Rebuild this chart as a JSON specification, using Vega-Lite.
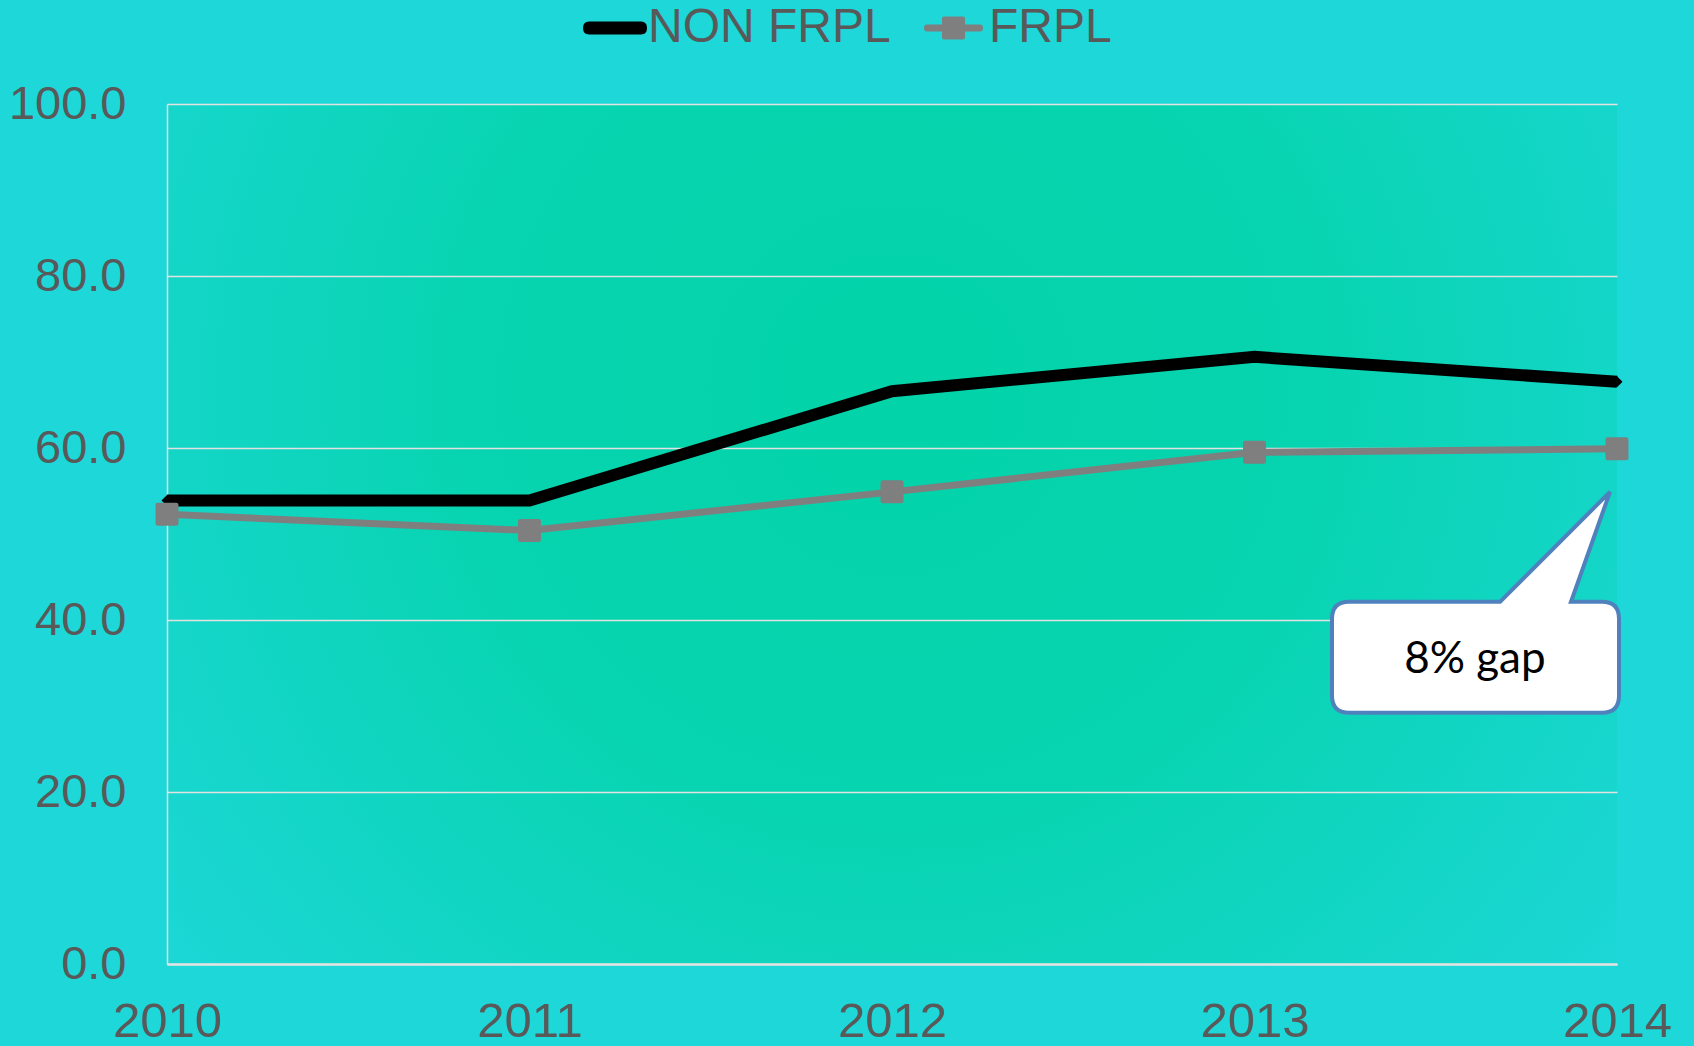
{
  "$schema": "https://vega.github.io/schema/vega-lite/v6.json",
  "width": 1450,
  "height": 860,
  "autosize": "none",
  "padding": {"left": 167, "top": 104, "right": 77, "bottom": 82},
  "background": "#1ED7D9",
  "config": {
    "font": "Liberation Sans",
    "view": {
      "stroke": null,
      "fill": {
        "gradient": "radial",
        "x1": 0.5, "y1": 0.4, "r1": 0,
        "x2": 0.5, "y2": 0.4, "r2": 0.65,
        "stops": [
          {"offset": 0, "color": "#02D3A8"},
          {"offset": 0.45, "color": "#07D4B0"},
          {"offset": 1, "color": "#1DD7D8"}
        ]
      }
    }
  },
  "data": {
    "values": [
      {"year": 2010, "series": "NON FRPL", "value": 53.9},
      {"year": 2011, "series": "NON FRPL", "value": 53.9},
      {"year": 2012, "series": "NON FRPL", "value": 66.6},
      {"year": 2013, "series": "NON FRPL", "value": 70.6},
      {"year": 2014, "series": "NON FRPL", "value": 67.7},
      {"year": 2010, "series": "FRPL", "value": 52.3},
      {"year": 2011, "series": "FRPL", "value": 50.4},
      {"year": 2012, "series": "FRPL", "value": 54.9},
      {"year": 2013, "series": "FRPL", "value": 59.5},
      {"year": 2014, "series": "FRPL", "value": 59.9}
    ]
  },
  "layer": [
    {
      "transform": [{"filter": "datum.series == 'FRPL'"}],
      "mark": {"type": "line", "color": "#7F7F7F", "strokeWidth": 7, "strokeJoin": "miter"},
      "encoding": {
        "x": {
          "field": "year",
          "type": "quantitative",
          "scale": {"domain": [2010, 2014], "nice": false, "zero": false},
          "axis": {
            "title": null,
            "values": [2010, 2011, 2012, 2013, 2014],
            "format": "d",
            "grid": false,
            "ticks": false,
            "domain": true,
            "domainColor": "#E2E2E2",
            "domainWidth": 2.5,
            "labelFontSize": 49,
            "labelColor": "#595959",
            "labelPadding": 33,
            "labelOverlap": false,
            "labelFlush": false,
            "labelBound": false
          }
        },
        "y": {
          "field": "value",
          "type": "quantitative",
          "scale": {"domain": [0, 100], "nice": false},
          "axis": {
            "title": null,
            "values": [0, 20, 40, 60, 80, 100],
            "format": ".1f",
            "grid": true,
            "gridColor": "#E2E2E2",
            "gridWidth": 1.5,
            "ticks": false,
            "domain": true,
            "domainColor": "#E2E2E2",
            "domainWidth": 1.5,
            "labelFontSize": 47,
            "labelColor": "#595959",
            "labelPadding": 41,
            "labelOverlap": false
          }
        }
      }
    },
    {
      "transform": [{"filter": "datum.series == 'NON FRPL'"}],
      "mark": {"type": "line", "color": "#000000", "strokeWidth": 12, "strokeJoin": "miter"},
      "encoding": {
        "x": {"field": "year", "type": "quantitative"},
        "y": {"field": "value", "type": "quantitative"}
      }
    },
    {
      "transform": [{"filter": "datum.series == 'NON FRPL'"}],
      "mark": {"type": "point", "shape": "diamond", "filled": true, "color": "#000000", "size": 120, "opacity": 1},
      "encoding": {
        "x": {"field": "year", "type": "quantitative"},
        "y": {"field": "value", "type": "quantitative"}
      }
    },
    {
      "transform": [{"filter": "datum.series == 'FRPL'"}],
      "mark": {
        "type": "point",
        "shape": "M -0.8 -1 L 0.8 -1 Q 1 -1 1 -0.8 L 1 0.8 Q 1 1 0.8 1 L -0.8 1 Q -1 1 -1 0.8 L -1 -0.8 Q -1 -1 -0.8 -1 Z",
        "filled": true,
        "color": "#7F7F7F",
        "size": 529,
        "opacity": 1
      },
      "encoding": {
        "x": {"field": "year", "type": "quantitative"},
        "y": {"field": "value", "type": "quantitative"}
      }
    },
    {
      "mark": {"type": "point", "filled": true, "opacity": 0, "size": 4},
      "encoding": {
        "x": {"field": "year", "type": "quantitative"},
        "y": {"field": "value", "type": "quantitative"},
        "fill": {
          "field": "series",
          "type": "nominal",
          "scale": {"domain": ["NON FRPL", "FRPL"], "range": ["#000000", "#7F7F7F"]},
          "legend": {
            "title": null,
            "orient": "none",
            "legendX": 392,
            "legendY": -100,
            "direction": "horizontal",
            "labelFontSize": 48,
            "labelColor": "#595959",
            "labelFont": "Liberation Sans",
            "labelOffset": 41,
            "labelLimit": 0,
            "columnPadding": 9,
            "padding": 0,
            "symbolSize": 4,
            "symbolStrokeWidth": 0,
            "encode": {"symbols": {"update": {"opacity": {"value": 1}, "fillOpacity": {"value": 1}}}}
          }
        },
        "shape": {
          "field": "series",
          "type": "nominal",
          "scale": {
            "domain": ["NON FRPL", "FRPL"],
            "range": [
              "M 6 -6.5 L 58 -6.5 Q 64 -6.5 64 0 Q 64 6.5 58 6.5 L 6 6.5 Q 0 6.5 0 0 Q 0 -6.5 6 -6.5 Z",
              "M 3 -3.5 L 56 -3.5 Q 59 -3.5 59 0 Q 59 3.5 56 3.5 L 3 3.5 Q 0 3.5 0 0 Q 0 -3.5 3 -3.5 Z M 20 -11.5 L 39 -11.5 Q 41 -11.5 41 -9.5 L 41 9.5 Q 41 11.5 39 11.5 L 20 11.5 Q 18 11.5 18 9.5 L 18 -9.5 Q 18 -11.5 20 -11.5 Z"
            ]
          }
        }
      }
    },
    {
      "data": {"values": [{"note": "8% gap"}]},
      "mark": {
        "type": "point",
        "shape": "M -117 110 L -7 0 L -46 110 L -15 110 Q 2 110 2 127 L 2 204 Q 2 221 -15 221 L -268 221 Q -285 221 -285 204 L -285 127 Q -285 110 -268 110 Z",
        "size": 4,
        "filled": true,
        "fill": "#FFFFFF",
        "stroke": "#4F81BD",
        "strokeWidth": 4,
        "opacity": 1,
        "fillOpacity": 1,
        "strokeJoin": "miter"
      },
      "encoding": {
        "x": {"datum": 2014, "type": "quantitative"},
        "y": {"datum": 54.9, "type": "quantitative"}
      }
    },
    {
      "data": {"values": [{"note": "8% gap"}]},
      "mark": {"type": "text", "font": "Lato", "fontSize": 44, "color": "#000000", "align": "center", "baseline": "alphabetic"},
      "encoding": {
        "x": {"datum": 2013.608, "type": "quantitative"},
        "y": {"datum": 33.8, "type": "quantitative"},
        "text": {"field": "note", "type": "nominal"}
      }
    }
  ]
}
